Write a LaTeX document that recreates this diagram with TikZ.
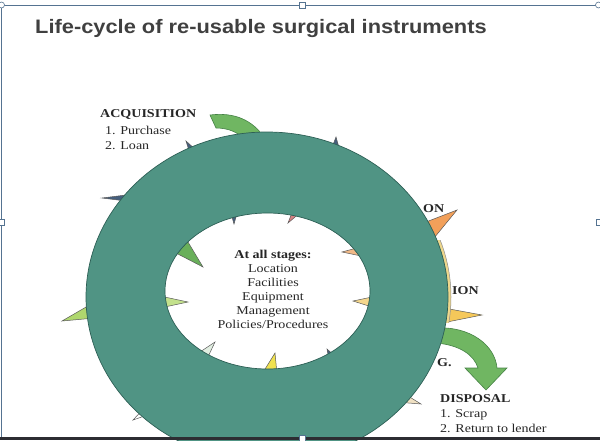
\documentclass[tikz,border=0pt]{standalone}
\usepackage{fontspec}
\setmainfont{Liberation Serif}
\newfontfamily\titlefont[FakeStretch=1.12]{Liberation Sans}
\newfontfamily\labelfont[FakeStretch=1.17]{Liberation Serif}
\definecolor{ringteal}{RGB}{80,148,132}
\definecolor{ringedge}{RGB}{45,95,85}
\definecolor{arrowgreen}{RGB}{112,182,98}
\definecolor{arrowedge}{RGB}{70,130,70}
\definecolor{slate}{RGB}{70,95,125}
\definecolor{spikeorange}{RGB}{242,160,90}
\definecolor{spikeyellow}{RGB}{245,200,90}
\definecolor{sliver}{RGB}{238,215,140}
\definecolor{titlegray}{RGB}{64,64,64}
\definecolor{frameblue}{RGB}{85,115,145}
\definecolor{barcol}{RGB}{45,45,50}
\tikzset{
  spike/.style={draw=black!65, line width=0.5pt, line join=miter},
  lbl/.style={font=\labelfont\fontsize{12}{14}\selectfont, inner sep=0pt, text=black!85},
  lblbold/.style={lbl, font=\labelfont\bfseries\fontsize{12}{14}\selectfont},
  handle/.style={fill=white, draw=frameblue, line width=0.6pt}
}
\begin{document}
\begin{tikzpicture}[x=1pt,y=-1pt]
\useasboundingbox (0,0) rectangle (600,440);
\clip (0,0) rectangle (600,440);
\filldraw[spike, fill=slate] (186,141) -- (190,154) -- (197,151) -- cycle;
\filldraw[spike, fill=slate] (102,198) -- (126,195) -- (126,201) -- cycle;
\filldraw[spike, fill=slate] (336,137) -- (331,150) -- (340,151) -- cycle;
\filldraw[spike, fill=spikeorange] (457,210) -- (426,222) -- (434,238) -- cycle;
\filldraw[spike, fill=spikeyellow] (482,315) -- (444,308) -- (442,323) -- cycle;
\filldraw[spike, fill={rgb,255:red,175;green,215;blue,110}] (62,321) -- (93,303) -- (95,318) -- cycle;
\filldraw[spike, fill=white] (133,420) -- (148,404) -- (156,412) -- cycle;
\filldraw[spike, fill={rgb,255:red,240;green,225;blue,195}] (421,404) -- (400,391) -- (396,402) -- cycle;
\filldraw[spike, fill=slate] (234,224) -- (230,210) -- (238,210) -- cycle;
\filldraw[spike, fill={rgb,255:red,215;green,130;blue,130}] (288,223) -- (293,210) -- (301,212) -- cycle;
\filldraw[spike, fill={rgb,255:red,240;green,185;blue,135}] (342,252) -- (364,246) -- (366,257) -- cycle;
\filldraw[spike, fill={rgb,255:red,245;green,215;blue,140}] (353,301) -- (372,297) -- (372,307) -- cycle;
\filldraw[spike, fill={rgb,255:red,240;green,225;blue,80}] (275,353) -- (262,374) -- (277,374) -- cycle;
\filldraw[spike, fill=slate] (327,349) -- (329,360) -- (336,357) -- cycle;
\filldraw[spike, fill={rgb,255:red,105;green,175;blue,90}] (203,267) -- (174,252) -- (188,242) -- cycle;
\filldraw[spike, fill={rgb,255:red,195;green,225;blue,140}] (188,302) -- (160,296) -- (160,308) -- cycle;
\filldraw[spike, fill={rgb,255:red,225;green,238;blue,225}] (215,342) -- (197,354) -- (207,359) -- cycle;
\begin{scope}
\clip (436,240) rectangle (462,322);
\filldraw[fill=sliver, draw=black!45, line width=0.5pt] (267,297) ellipse [x radius=184, y radius=168];
\end{scope}
\filldraw[fill=arrowgreen, draw=arrowedge, line width=0.6pt] (210,115) .. controls (235,112) and (252,120) .. (265,138) -- (245,140) .. controls (238,132) and (228,128) .. (216,128) -- cycle;
\filldraw[fill=arrowgreen, draw=arrowedge, line width=0.6pt] (436,328) .. controls (470,326) and (495,345) .. (497,368) -- (507,368) -- (486,390) -- (465,368) -- (478,368) .. controls (474,355) and (460,345) .. (436,343) -- cycle;
\node[lblbold, anchor=base west] (stagetwo) at (423,212) {ON};
\node[lblbold, anchor=base west] (stagethree) at (452,294) {ION};
\filldraw[fill=ringteal, draw=ringedge, line width=0.7pt, even odd rule] (267,297) ellipse [x radius=181, y radius=165] (267.5,291) ellipse [x radius=102.5, y radius=78];
\node[lblbold, anchor=base west] (stagefour) at (437,366) {G.};
\node[lblbold, anchor=base west] (acq) at (100,117) {ACQUISITION};
\node[lbl, anchor=base west] (acqone) at (105,134) {1. Purchase};
\node[lbl, anchor=base west] (acqtwo) at (105,149) {2. Loan};
\node[lblbold, anchor=base west] (disp) at (440,402) {DISPOSAL};
\node[lbl, anchor=base west] (dispone) at (440,417) {1. Scrap};
\node[lbl, anchor=base west] (disptwo) at (440,432) {2. Return to lender};
\node[lbl, align=center] (stages) at (273,289) {\textbf{At all stages:}\\Location\\Facilities\\Equipment\\Management\\Policies/Procedures};
\node[anchor=base west, inner sep=0pt, text=titlegray, font=\titlefont\bfseries\fontsize{19.5}{20}\selectfont] (title) at (35,33) {Life-cycle of re-usable surgical instruments};
\fill[barcol] (0,436.5) rectangle (600,440);
\draw[frameblue, line width=1pt] (0,5) -- (600,5);
\draw[frameblue, line width=1pt] (1,5) -- (1,437);
\filldraw[handle] (1.5,5) circle (3);
\filldraw[handle] (598.5,5) circle (3);
\filldraw[handle] (299,2) rectangle (305,8);
\filldraw[handle] (-2,219) rectangle (4,225);
\filldraw[handle] (596,219) rectangle (602,225);
\filldraw[handle] (299,435) rectangle (305,441);
\end{tikzpicture}
\end{document}
